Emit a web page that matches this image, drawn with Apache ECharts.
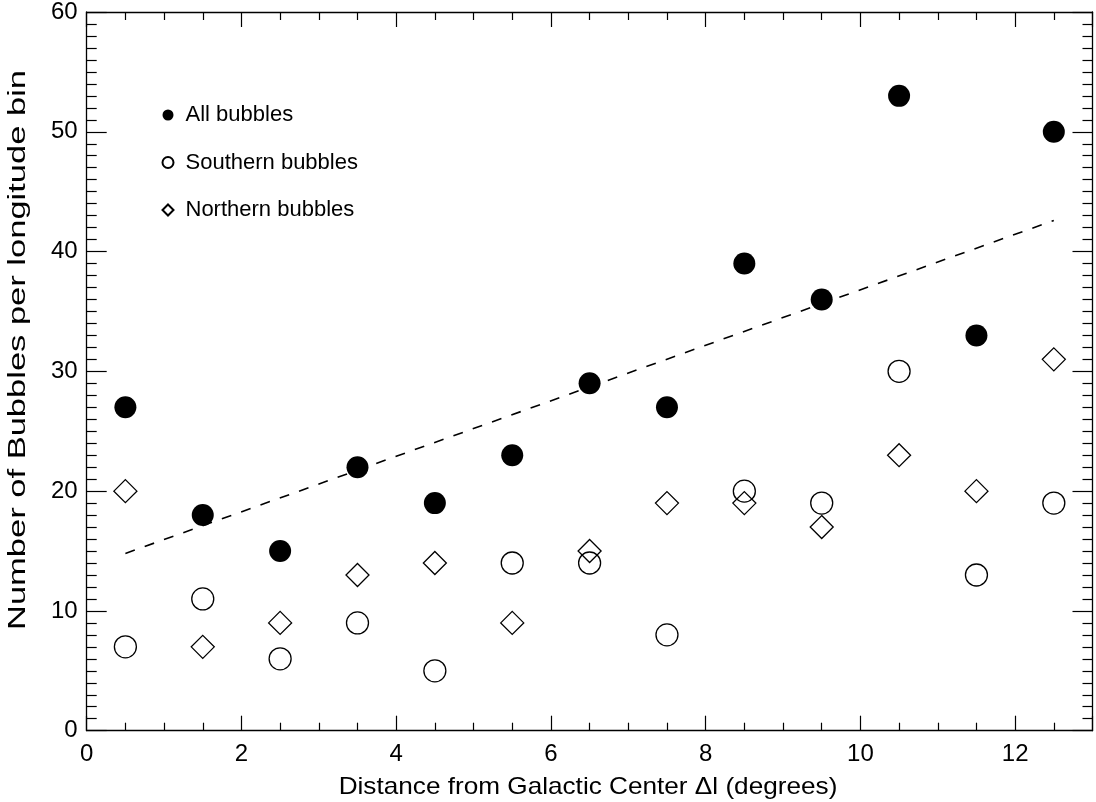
<!DOCTYPE html>
<html>
<head>
<meta charset="utf-8">
<script src="https://cdn.jsdelivr.net/npm/echarts@6/dist/echarts.min.js"></script>
<style>html,body{margin:0;padding:0;background:#fff}#c{width:1096px;height:802px}</style>
</head>
<body>
<div id="c"></div>
<script>
const xPositions = [0.5, 1.5, 2.5, 3.5, 4.5, 5.5, 6.5, 7.5, 8.5, 9.5, 10.5, 11.5, 12.5];
const allBubbles = [27, 18, 15, 22, 19, 23, 29, 27, 39, 36, 53, 33, 50];
const southernBubbles = [7, 11, 6, 9, 5, 14, 14, 8, 20, 19, 30, 13, 19];
const northernBubbles = [20, 7, 9, 13, 14, 9, 15, 19, 19, 17, 23, 20, 31];
const fitLineX = [0.5, 12.5];
const fitLineY = [14.8, 42.6];
const xTitle = 'Distance from Galactic Center \u0394l (degrees)';
const yTitle = 'Number of Bubbles per longitude bin';
const seriesNames = ['All bubbles', 'Southern bubbles', 'Northern bubbles'];

const pairs = (xs, ys) => xs.map((x, i) => [x, ys[i]]);
const FONT = '"Liberation Sans", Arial, Helvetica, sans-serif';
const axisCommon = {
  axisLine: { show: true, onZero: false, lineStyle: { color: '#000', width: 1.3 } },
  splitLine: { show: false },
};
const tickX = {
  axisTick: { show: true, inside: true, length: 15, lineStyle: { color: '#000', width: 1.2 } },
  minorTick: { show: true, splitNumber: 4, length: 8, lineStyle: { color: '#000', width: 1.2 } }
};
const tickY = {
  axisTick: { show: true, inside: true, length: 20, lineStyle: { color: '#000', width: 1.2 } },
  minorTick: { show: true, splitNumber: 10, length: 10, lineStyle: { color: '#000', width: 1.2 } }
};
const chart = echarts.init(document.getElementById('c'));
chart.setOption({
  backgroundColor: '#fff',
  animation: false,
  grid: { left: 86.7, right: 3.5, top: 5.7, bottom: 71.3 },
  legend: {
    orient: 'vertical', left: 156.5, top: 99,
    itemWidth: 11, itemHeight: 11, itemGap: 25.5,
    data: seriesNames,
    textStyle: { fontFamily: FONT, fontSize: 22, color: '#000', lineHeight: 22, padding: [0, 0, 0, 7] },
    selectedMode: false
  },
  graphic: [
    {
      type: 'text', x: 588, y: 787, scaleX: 1.09, silent: true,
      style: { text: xTitle, font: '24px ' + FONT, fill: '#000', align: 'center', verticalAlign: 'middle' }
    },
    {
      type: 'text', x: 19, y: 350, rotation: Math.PI / 2, scaleX: 1.5, silent: true,
      style: { text: yTitle, font: '23px ' + FONT, fill: '#000', align: 'center', verticalAlign: 'middle' }
    }
  ],
  xAxis: [
    Object.assign({
      type: 'value', min: 0, max: 13, interval: 2, position: 'bottom',
      axisLabel: { fontFamily: FONT, fontSize: 24, color: '#000', margin: 12, showMaxLabel: false }
    }, tickX, axisCommon),
    Object.assign({
      type: 'value', min: 0, max: 13, interval: 2, position: 'top',
      axisLabel: { show: false }
    }, tickX, axisCommon)
  ],
  yAxis: [
    Object.assign({
      type: 'value', min: 0, max: 60, interval: 10, position: 'left',
      axisLabel: { fontFamily: FONT, fontSize: 24, color: '#000', margin: 9 }
    }, tickY, axisCommon),
    Object.assign({
      type: 'value', min: 0, max: 60, interval: 10, position: 'right',
      axisLabel: { show: false }
    }, tickY, axisCommon)
  ],
  series: [
    {
      name: 'fit', type: 'line', data: pairs(fitLineX, fitLineY),
      showSymbol: false, symbol: 'none',
      lineStyle: { color: '#000', width: 1.6, type: [10, 10.5] },
      silent: true, z: 1
    },
    {
      name: seriesNames[0], type: 'scatter', data: pairs(xPositions, allBubbles),
      symbol: 'circle', symbolSize: 22,
      itemStyle: { color: '#000', borderColor: '#000', borderWidth: 0, opacity: 1 },
      z: 3
    },
    {
      name: seriesNames[1], type: 'scatter', data: pairs(xPositions, southernBubbles),
      symbol: 'circle', symbolSize: 22,
      itemStyle: { color: 'rgba(255,255,255,0)', borderColor: '#000', borderWidth: 1.3, opacity: 1 },
      z: 3
    },
    {
      name: seriesNames[2], type: 'scatter', data: pairs(xPositions, northernBubbles),
      symbol: 'diamond', symbolSize: [23, 23],
      itemStyle: { color: 'rgba(255,255,255,0)', borderColor: '#000', borderWidth: 1.3, opacity: 1 },
      z: 3
    }
  ]
});
</script>
</body>
</html>
